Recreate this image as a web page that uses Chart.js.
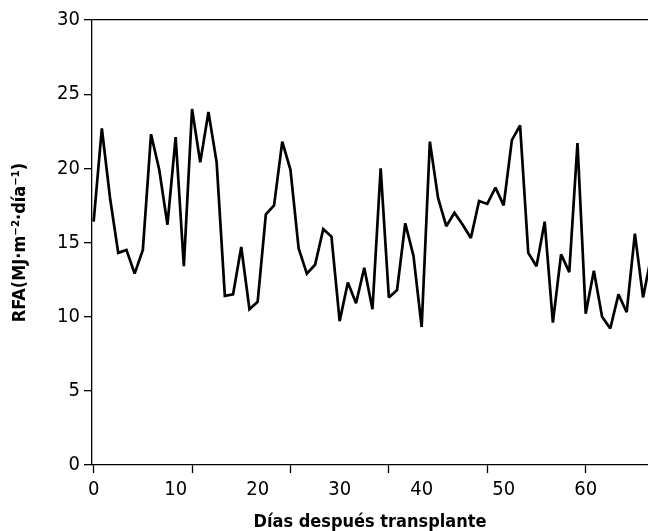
<!DOCTYPE html>
<html>
<head>
<meta charset="utf-8">
<script src="https://cdn.jsdelivr.net/npm/chart.js@4.4.1/dist/chart.umd.min.js"></script>
<style>
  body { margin: 0; background: #fff; }
</style>
</head>
<body>
<canvas id="chart" width="648" height="531"></canvas>
<script>
// days after transplant
const days = [0, 1, 2, 3, 4, 5, 6, 7, 8, 9, 10, 11, 12, 13, 14, 15, 16, 17, 18, 19,
  20, 21, 22, 23, 24, 25, 26, 27, 28, 29, 30, 31, 32, 33, 34, 35, 36, 37, 38, 39,
  40, 41, 42, 43, 44, 45, 46, 47, 48, 49, 50, 51, 52, 53, 54, 55, 56, 57, 58, 59,
  60, 61, 62, 63, 64, 65, 66, 67, 68];
// RFA (MJ m-2 dia-1)
const rfa = [16.4, 22.7, 18.0, 14.3, 14.5, 12.9, 14.5, 22.3, 19.9, 16.2,
  22.1, 13.4, 24.0, 20.4, 23.8, 20.4, 11.4, 11.5, 14.7, 10.5,
  11.0, 16.9, 17.5, 21.8, 19.9, 14.6, 12.9, 13.5, 15.9, 15.4,
  9.7, 12.3, 10.9, 13.3, 10.5, 20.0, 11.3, 11.8, 16.3, 14.1,
  9.3, 21.8, 18.0, 16.1, 17.0, 16.2, 15.3, 17.8, 17.6, 18.7,
  17.5, 21.9, 22.9, 14.3, 13.4, 16.4, 9.6, 14.2, 13.0, 21.7,
  10.2, 13.1, 10.0, 9.2, 11.5, 10.3, 15.6, 11.3, 14.1];

const xLabelDays = [0, 10, 20, 30, 40, 50, 60];
const xMarkDays = [0, 12, 24, 36, 48, 60];
const yTicks = [0, 5, 10, 15, 20, 25, 30];

Chart.defaults.font.family = "'DejaVu Sans Condensed', 'Liberation Sans', sans-serif";
Chart.defaults.color = "#000";

// keep the sharp corners of the line from shooting out too far
const shortMiter = {
  id: "shortMiter",
  beforeDatasetsDraw: (chart) => {
    chart.ctx.miterLimit = 2.2;
  },
};

const config = {
  type: "line",
  data: {
    datasets: [{
      data: days.map((d, i) => ({ x: d, y: rfa[i] })),
      borderColor: "#000",
      borderWidth: 2.7,
      borderJoinStyle: "miter",
      pointRadius: 0,
      tension: 0,
      fill: false,
    }],
  },
  plugins: [shortMiter],
  options: {
    responsive: false,
    animation: false,
    layout: {
      padding: { top: 20, left: 0, right: 0, bottom: 0 },
    },
    plugins: {
      legend: { display: false },
      tooltip: { enabled: false },
    },
    scales: {
      x: {
        type: "linear",
        min: -0.2,
        max: 67.6,
        afterBuildTicks: (scale) => {
          const vals = [...new Set([...xLabelDays, ...xMarkDays])].sort((a, b) => a - b);
          scale.ticks = vals.map((v) => ({ value: v }));
        },
        afterFit: (scale) => {
          scale.height = 66;
        },
        ticks: {
          autoSkip: false,
          maxRotation: 0,
          padding: 5,
          font: { size: 20 },
          color: "#000",
          callback: (v) => (xLabelDays.includes(v) ? String(v) : ""),
        },
        grid: {
          drawOnChartArea: false,
          tickLength: 8,
          tickWidth: 1.3,
          tickColor: (ctx) => (ctx.tick && xMarkDays.includes(ctx.tick.value) ? "#000" : "rgba(0,0,0,0)"),
        },
        border: { color: "#000", width: 1.3 },
        title: {
          display: true,
          text: "Días después transplante",
          color: "#000",
          font: { size: 18, weight: "bold", lineHeight: 1 },
          padding: 0,
        },
      },
      y: {
        min: 0,
        max: 30,
        afterBuildTicks: (scale) => {
          scale.ticks = yTicks.map((v) => ({ value: v }));
        },
        afterFit: (scale) => {
          scale.width = 92;
        },
        ticks: {
          padding: 4,
          font: { size: 20 },
          color: "#000",
        },
        grid: {
          lineWidth: 1.3,
          tickWidth: 1.3,
          tickLength: 8,
          tickColor: "#000",
          color: (ctx) => (ctx.tick && ctx.tick.value === 30 ? "#000" : "rgba(0,0,0,0)"),
        },
        border: { color: "#000", width: 1.3 },
        title: {
          display: true,
          text: "RFA(MJ·m⁻²·día⁻¹)",
          color: "#000",
          font: { size: 18, weight: "bold", lineHeight: 1 },
          padding: { top: 11, bottom: 0 },
        },
      },
    },
  },
};

new Chart(document.getElementById("chart"), config);
</script>
</body>
</html>
